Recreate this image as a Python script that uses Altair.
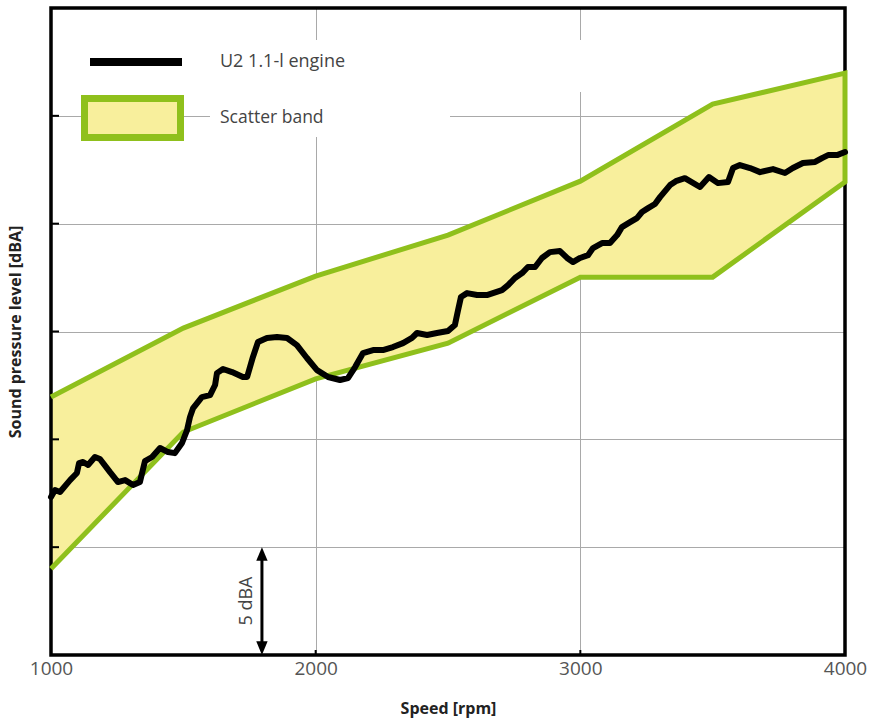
import altair as alt
import pandas as pd

# Measured engine curve: speed [rpm] vs. relative sound pressure level [dBA]
speed_rpm = [1000, 1015, 1034, 1072, 1098, 1106, 1121, 1140, 1166, 1185, 1223, 1253,
             1280, 1310, 1336, 1355, 1382, 1412, 1442, 1468, 1495, 1514, 1525, 1537,
             1570, 1601, 1620, 1627, 1650, 1684, 1725, 1741, 1763, 1782, 1816, 1854,
             1892, 1929, 1967, 2005, 2047, 2092, 2122, 2149, 2179, 2217, 2254, 2292,
             2330, 2364, 2383, 2421, 2458, 2500, 2526, 2538, 2549, 2572, 2610, 2647,
             2704, 2727, 2753, 2780, 2802, 2829, 2855, 2885, 2923, 2950, 2972, 2999,
             3029, 3048, 3082, 3112, 3139, 3157, 3188, 3214, 3233, 3256, 3282, 3301,
             3339, 3361, 3395, 3452, 3486, 3520, 3558, 3577, 3603, 3641, 3679, 3728,
             3773, 3803, 3841, 3887, 3913, 3936, 3970, 4000]
spl_dba = [7.33, 7.65, 7.56, 8.11, 8.44, 8.90, 8.95, 8.81, 9.18, 9.09, 8.48, 8.02,
           8.11, 7.88, 8.02, 8.99, 9.18, 9.60, 9.41, 9.36, 9.83, 10.43, 11.03, 11.45,
           11.96, 12.05, 12.52, 13.07, 13.26, 13.12, 12.89, 12.89, 13.82, 14.51, 14.70, 14.74,
           14.70, 14.37, 13.77, 13.21, 12.89, 12.75, 12.84, 13.35, 14.00, 14.14, 14.14, 14.28,
           14.46, 14.70, 14.93, 14.84, 14.93, 15.02, 15.30, 15.99, 16.60, 16.78, 16.69, 16.69,
           16.92, 17.15, 17.48, 17.71, 17.99, 17.99, 18.41, 18.68, 18.73, 18.41, 18.22, 18.41,
           18.54, 18.87, 19.10, 19.10, 19.47, 19.84, 20.07, 20.26, 20.54, 20.72, 20.91, 21.23,
           21.79, 21.97, 22.11, 21.70, 22.16, 21.88, 21.93, 22.58, 22.72, 22.58, 22.39, 22.53,
           22.35, 22.58, 22.81, 22.86, 23.04, 23.18, 23.18, 23.32]

# Scatter band corners
band_rpm = [1000, 1500, 2000, 2500, 3000, 3500, 4000]
band_upper = [11.96, 15.16, 17.57, 19.47, 21.97, 25.54, 26.98]
band_lower = [4.00, 10.34, 12.80, 14.46, 17.52, 17.52, 21.93]

x_ticks = [1000, 2000, 3000, 4000]
y_grid = [5, 10, 15, 20, 25]
legend_labels = ["U2 1.1-l engine", "Scatter band"]
scale_note = "5 dBA"

FONT = "Open Sans"
GREEN = "#8fc01c"
YELLOW = "#f8ef9c"
GRID = "#a9a9a9"

xs = alt.Scale(domain=[1000, 4000], nice=False, zero=False)
ys = alt.Scale(domain=[0, 30], nice=False, zero=False)

# one axis definition per direction, shared by every layer
ax_x = alt.Axis(
    values=x_ticks, format="d", title="Speed [rpm]", grid=True, gridColor=GRID,
    gridWidth=1, domain=False, ticks=False, labelFont=FONT, labelFontSize=19,
    labelColor="#555555", labelPadding=4, labelFlush=False, titleFont=FONT,
    titleFontSize=16, titleFontWeight="bold", titleColor="#222222", titlePadding=22)
ax_y = alt.Axis(
    values=y_grid, labels=False, ticks=False, domain=False, grid=True,
    gridColor=GRID, gridWidth=1, title="Sound pressure level [dBA]",
    titleFont=FONT, titleFontSize=16, titleFontWeight="bold", titleColor="#222222",
    titlePadding=28)


def X(field):
    return alt.X(field, scale=xs, axis=ax_x)


def Y(field):
    return alt.Y(field, scale=ys, axis=ax_y)


def XD(v):
    return alt.XDatum(v, type="quantitative", scale=xs, axis=ax_x)


def YD(v):
    return alt.YDatum(v, type="quantitative", scale=ys, axis=ax_y)


one = pd.DataFrame({"k": [0]})
curve = pd.DataFrame({"rpm": speed_rpm, "spl": spl_dba})
band = pd.DataFrame({"rpm": band_rpm, "upper": band_upper, "lower": band_lower})
# outline: upper edge left->right, then lower edge right->left (closed on the right side)
outline = pd.DataFrame({
    "rpm": band_rpm + band_rpm[::-1],
    "spl": band_upper + band_lower[::-1],
    "order": list(range(2 * len(band_rpm))),
})
grid_df = pd.DataFrame({"spl": y_grid})
xtick_df = pd.DataFrame({"rpm": [2000, 3000]})

band_fill = alt.Chart(band).mark_area(color=YELLOW, opacity=1).encode(
    x=X("rpm:Q"), y=Y("upper:Q"), y2="lower:Q")

# white backing behind the legend text rows
legend_bg1 = alt.Chart(one).mark_rect(color="white").encode(
    x=alt.value(159), x2=alt.value(549), y=alt.value(32), y2=alt.value(84))
legend_bg2 = alt.Chart(one).mark_rect(color="white").encode(
    x=alt.value(159), x2=alt.value(399), y=alt.value(84), y2=alt.value(129))

frame = alt.Chart(one).mark_rect(fill=None, stroke="black", strokeWidth=3.5).encode(
    x=XD(1000), x2=alt.datum(4000), y=YD(0), y2=alt.datum(30))

band_edge = alt.Chart(outline).mark_line(
    color=GREEN, strokeWidth=5, strokeJoin="miter").encode(
    x=X("rpm:Q"), y=Y("spl:Q"), order="order:Q")

engine = alt.Chart(curve).mark_line(
    color="black", strokeWidth=6, strokeJoin="round", strokeCap="round").encode(
    x=X("rpm:Q"), y=Y("spl:Q"))

# inward tick marks
ytick_marks = alt.Chart(grid_df).mark_rule(color="black", strokeWidth=2).encode(
    x=alt.value(0), x2=alt.value(8), y=Y("spl:Q"))
xtick_marks = alt.Chart(xtick_df).mark_rule(color="black", strokeWidth=2).encode(
    x=X("rpm:Q"), y=alt.value(647), y2=alt.value(642))

# legend
leg_line = alt.Chart(one).mark_rule(color="black", strokeWidth=8).encode(
    x=alt.value(39), x2=alt.value(131), y=alt.value(54))
leg_box = alt.Chart(one).mark_rect(fill=YELLOW, stroke=GREEN, strokeWidth=7).encode(
    x=alt.value(33.5), x2=alt.value(129.5), y=alt.value(90.5), y2=alt.value(129.5))
leg_text1 = alt.Chart(pd.DataFrame({"label": [legend_labels[0]]})).mark_text(
    align="left", baseline="middle", font=FONT, fontSize=18, color="#444444").encode(
    x=alt.value(169), y=alt.value(54), text="label:N")
leg_text2 = alt.Chart(pd.DataFrame({"label": [legend_labels[1]]})).mark_text(
    align="left", baseline="middle", font=FONT, fontSize=17.5, color="#444444").encode(
    x=alt.value(169), y=alt.value(110), text="label:N")

# 5 dBA scale arrow
arrow_shaft = alt.Chart(one).mark_rule(color="black", strokeWidth=3).encode(
    x=XD(1797), y=YD(0.5), y2=alt.datum(4.5))
arrow_up = alt.Chart(one).mark_point(
    shape="M0,0 L-0.5,1.2 L0.5,1.2 Z", filled=True, color="black", size=520,
    opacity=1).encode(x=XD(1797), y=YD(5))
arrow_down = alt.Chart(one).mark_point(
    shape="M0,0 L-0.5,-1.2 L0.5,-1.2 Z", filled=True, color="black", size=520,
    opacity=1).encode(x=XD(1797), y=YD(0))
arrow_text = alt.Chart(pd.DataFrame({"label": [scale_note]})).mark_text(
    angle=270, align="center", baseline="middle", font=FONT, fontSize=18,
    color="#444444").encode(x=XD(1740), y=YD(2.5), text="label:N")

chart = alt.layer(
    band_fill, legend_bg1, legend_bg2, frame, band_edge, engine,
    ytick_marks, xtick_marks, leg_line, leg_box, leg_text1, leg_text2,
    arrow_shaft, arrow_up, arrow_down, arrow_text,
).properties(
    width=794, height=647,
    padding={"left": 51, "top": 8, "right": 24, "bottom": 67},
    autosize=alt.AutoSizeParams(type="none"),
    background="white",
).configure_view(stroke=None)

chart.save("out.html", embed_options={"renderer": "svg", "actions": False})
